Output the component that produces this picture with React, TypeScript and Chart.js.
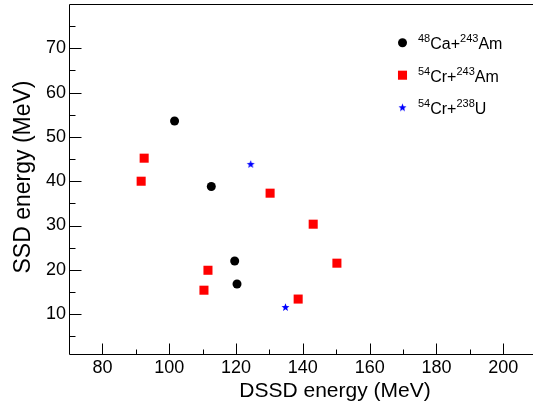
import React, { useEffect, useRef } from 'react';
import { Chart, registerables } from 'chart.js';

Chart.register(...registerables);

// ---- data ----
const caAmX = [101.6, 112.6, 119.6, 120.3];
const caAmY = [53.6, 38.8, 22.0, 16.8];
const crAmX = [92.5, 91.6, 130.2, 143.1, 150.2, 111.6, 110.4, 138.6];
const crAmY = [45.2, 40.0, 37.3, 30.3, 21.5, 19.9, 15.4, 13.4];
const crUX = [124.4, 134.8];
const crUY = [43.8, 11.5];

const xMajor = [80, 100, 120, 140, 160, 180, 200];
const xMinor = [90, 110, 130, 150, 170, 190];
const yMajor = [10, 20, 30, 40, 50, 60, 70];
const yMinor = [5, 15, 25, 35, 45, 55, 65, 75];

const xTitle = 'DSSD energy (MeV)';
const yTitle = 'SSD energy (MeV)';
// legend: [superscript, text, superscript, text]
const legendParts = [
  ['48', 'Ca+', '243', 'Am'],
  ['54', 'Cr+', '243', 'Am'],
  ['54', 'Cr+', '238', 'U'],
];

const FONT = "'Liberation Sans', Arial, Helvetica, sans-serif";

function makeStar(color: string, outer: number, inner: number): HTMLCanvasElement {
  const size = Math.ceil(outer * 2 + 2);
  const c = document.createElement('canvas');
  c.width = size;
  c.height = size;
  const g = c.getContext('2d')!;
  const cx = size / 2;
  const cy = size / 2;
  g.beginPath();
  for (let i = 0; i < 10; i++) {
    const r = i % 2 === 0 ? outer : inner;
    const a = -Math.PI / 2 + (i * Math.PI) / 5;
    const px = cx + r * Math.cos(a);
    const py = cy + r * Math.sin(a);
    if (i === 0) g.moveTo(px, py);
    else g.lineTo(px, py);
  }
  g.closePath();
  g.fillStyle = color;
  g.fill();
  return c;
}

const framePlugin = {
  id: 'rootFrame',
  afterDraw(chart: any) {
    const { ctx, chartArea } = chart;
    const xs = chart.scales.x;
    const ys = chart.scales.y;
    const L = Math.round(chartArea.left) + 0.5;
    const T = Math.round(chartArea.top) + 0.5;
    const B = Math.round(chartArea.bottom) + 0.5;
    const R = chartArea.right;
    ctx.save();
    ctx.strokeStyle = '#000';
    ctx.lineWidth = 1;
    ctx.beginPath();
    ctx.moveTo(R + 1, T);
    ctx.lineTo(L, T);
    ctx.lineTo(L, B);
    ctx.lineTo(R + 1, B);
    ctx.stroke();
    // inward ticks
    ctx.beginPath();
    yMajor.forEach((v) => {
      const y = Math.round(ys.getPixelForValue(v)) + 0.5;
      ctx.moveTo(L, y);
      ctx.lineTo(L + 12, y);
    });
    yMinor.forEach((v) => {
      const y = Math.round(ys.getPixelForValue(v)) + 0.5;
      ctx.moveTo(L, y);
      ctx.lineTo(L + 6, y);
    });
    xMajor.forEach((v) => {
      const x = Math.round(xs.getPixelForValue(v)) + 0.5;
      ctx.moveTo(x, B);
      ctx.lineTo(x, B - 11);
    });
    xMinor.forEach((v) => {
      const x = Math.round(xs.getPixelForValue(v)) + 0.5;
      ctx.moveTo(x, B);
      ctx.lineTo(x, B - 5);
    });
    ctx.stroke();

    // axis titles
    ctx.fillStyle = '#000';
    ctx.textAlign = 'center';
    ctx.textBaseline = 'alphabetic';
    ctx.font = `21px ${FONT}`;
    ctx.fillText(xTitle, chartArea.left + 266, chartArea.bottom + 43);
    ctx.save();
    ctx.font = `23px ${FONT}`;
    ctx.translate(30, chartArea.top + 173);
    ctx.rotate(-Math.PI / 2);
    ctx.fillText(yTitle, 0, 0);
    ctx.restore();

    // legend
    const lx = chartArea.left + 333.5;
    const ly0 = chartArea.top + 38.7;
    const dy = 32.5;
    chart.data.datasets.forEach((ds: any, i: number) => {
      const my = ly0 + i * dy;
      const style = ds.pointStyle;
      ctx.fillStyle = ds.backgroundColor;
      if (style === 'circle') {
        ctx.beginPath();
        ctx.arc(lx, my, ds.pointRadius, 0, Math.PI * 2);
        ctx.fill();
      } else if (style === 'rect') {
        const s = ds.pointRadius * Math.SQRT1_2;
        ctx.fillRect(lx - s, my - s, 2 * s, 2 * s);
      } else if (style && style.width) {
        ctx.drawImage(style, lx - style.width / 2, my - style.height / 2);
      }
      const parts = legendParts[i];
      let tx = lx + 15.5;
      const base = my + 6.6;
      ctx.fillStyle = '#000';
      ctx.textAlign = 'left';
      parts.forEach((p, k) => {
        if (k % 2 === 0) {
          ctx.font = `11px ${FONT}`;
          ctx.fillText(p, tx, base - 7.3);
        } else {
          ctx.font = `16px ${FONT}`;
          ctx.fillText(p, tx, base);
        }
        tx += ctx.measureText(p).width;
      });
    });
    ctx.restore();
  },
};

export default function App() {
  const ref = useRef<HTMLCanvasElement | null>(null);
  useEffect(() => {
    if (!ref.current) return;
    const star = makeStar('#0000ff', 4.2, 1.8);
    const toPts = (xs: number[], ys: number[]) => xs.map((x, i) => ({ x, y: ys[i] }));
    const chart = new Chart(ref.current, {
      type: 'scatter',
      data: {
        datasets: [
          {
            label: '48Ca+243Am',
            data: toPts(caAmX, caAmY),
            pointStyle: 'circle',
            pointRadius: 4.5,
            backgroundColor: '#000000',
            borderColor: '#000000',
            borderWidth: 0,
          },
          {
            label: '54Cr+243Am',
            data: toPts(crAmX, crAmY),
            pointStyle: 'rect',
            pointRadius: 6.4,
            backgroundColor: '#ff0000',
            borderColor: '#ff0000',
            borderWidth: 0,
          },
          {
            label: '54Cr+238U',
            data: toPts(crUX, crUY),
            pointStyle: star as any,
            pointRadius: 4,
            backgroundColor: '#0000ff',
            borderColor: '#0000ff',
            borderWidth: 0,
          },
        ] as any,
      },
      options: {
        animation: false,
        responsive: false,
        devicePixelRatio: 1,
        events: [],
        layout: { autoPadding: false, padding: { top: 4, left: 0, right: 0, bottom: 0 } },
        plugins: {
          legend: { display: false },
          tooltip: { enabled: false },
        },
        scales: {
          x: {
            type: 'linear',
            min: 70,
            max: 208.9,
            grid: { display: false, drawTicks: false },
            border: { display: false },
            afterBuildTicks: (s: any) => {
              s.ticks = xMajor.map((v) => ({ value: v }));
            },
            afterFit: (s: any) => {
              s.height = 60;
              s.paddingLeft = 0;
              s.paddingRight = 0;
            },
            ticks: {
              autoSkip: false,
              maxRotation: 0,
              padding: 3,
              color: '#000',
              font: { family: FONT, size: 18 },
            },
          },
          y: {
            type: 'linear',
            min: 1,
            max: 80,
            grid: { display: false, drawTicks: false },
            border: { display: false },
            afterBuildTicks: (s: any) => {
              s.ticks = yMajor.map((v) => ({ value: v }));
            },
            afterFit: (s: any) => {
              s.width = 69;
              s.paddingTop = 0;
              s.paddingBottom = 0;
            },
            ticks: {
              autoSkip: false,
              padding: 3,
              color: '#000',
              font: { family: FONT, size: 18 },
            },
          },
        },
      } as any,
      plugins: [framePlugin],
    });
    return () => chart.destroy();
  }, []);
  return (
    <div style={{ position: 'absolute', left: 0, top: 0, width: 533, height: 414, background: '#fff' }}>
      <canvas ref={ref} width={533} height={414} style={{ display: 'block' }} />
    </div>
  );
}
